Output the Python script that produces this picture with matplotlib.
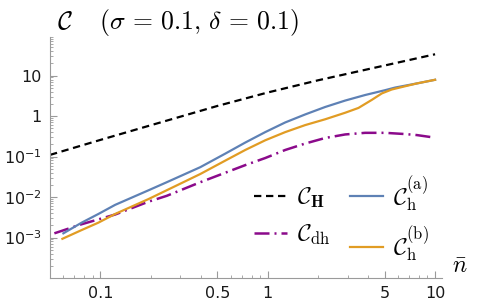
import numpy as np
import matplotlib
matplotlib.use("Agg")
import matplotlib.pyplot as plt

plt.rcParams['mathtext.fontset'] = 'dejavusans'

# valores
n_H = [0.05, 0.1, 0.2, 0.5, 1, 2, 5, 10]
C_H = [0.110, 0.258, 0.594, 1.78, 3.83, 7.67, 17.8, 33.7]

n_a = [0.0601, 0.0773, 0.0973, 0.1225, 0.194, 0.249, 0.395, 0.557, 0.734, 0.966, 1.272,
       1.675, 2.205, 2.902, 3.821, 5.03, 5.77, 7.77, 10]
C_a = [0.00127, 0.00233, 0.00382, 0.00641, 0.0147, 0.0232, 0.0546, 0.118, 0.222, 0.402, 0.697,
       1.10, 1.68, 2.42, 3.32, 4.37, 5.07, 6.4, 7.89]

n_b = [0.0593, 0.0773, 0.0973, 0.1225, 0.194, 0.249, 0.395, 0.557, 0.734, 0.966, 1.272,
       1.675, 2.205, 2.902, 3.484, 4.19, 4.81, 5.51, 6.62, 7.77, 10]
C_b = [0.00093, 0.00153, 0.00233, 0.00382, 0.00893, 0.0147, 0.037, 0.0793, 0.1455, 0.2525, 0.402,
       0.600, 0.835, 1.21, 1.59, 2.52, 3.64, 4.54, 5.46, 6.4, 7.89]

n_dh = [0.0531, 0.0773, 0.1225, 0.194, 0.249, 0.395, 0.734, 0.966, 1.272, 1.675, 2.205,
        2.902, 3.821, 5.03, 6.62, 7.77, 10]
C_dh = [0.00127, 0.00213, 0.00370, 0.00769, 0.0107, 0.0232, 0.0615, 0.092, 0.1455, 0.210, 0.288,
        0.352, 0.386, 0.386, 0.360, 0.340, 0.293]

xticks = [0.1, 0.5, 1, 5, 10]
xticklabels = ['0.1', '0.5', '1', '5', '10']
yticks = [10, 1, 0.1, 0.01, 0.001]
yticklabels = ['10', '1', r'$10^{-1}$', r'$10^{-2}$', r'$10^{-3}$']

AZUL = '#5e81b5'
LARANJA = '#e19c24'
ROXO = '#8b0a8b'
CINZA = '#9a9a9a'

fig = plt.figure(figsize=(4.82, 3.06), dpi=100)
ax = fig.add_axes([50/482, 1-278/306, 392/482, (278-37)/306])

ax.plot(n_H, C_H, color='black', lw=1.6, dashes=(3.3, 2.1), label=r'$\mathcal{C}_{\mathbf{H}}$')
ax.plot(n_dh, C_dh, color=ROXO, lw=1.8, dashes=(6.0, 2.0, 0.8, 2.0), label=r'$\mathcal{C}_{\mathrm{dh}}$')
ax.plot(n_a, C_a, color=AZUL, lw=1.6, label=r'$\mathcal{C}_{\mathrm{h}}^{(\mathrm{a})}$')
ax.plot(n_b, C_b, color=LARANJA, lw=1.6, label=r'$\mathcal{C}_{\mathrm{h}}^{(\mathrm{b})}$')

ax.set_xscale('log')
ax.set_yscale('log')
ax.set_xlim(0.0503, 11.0)
ax.set_ylim(1e-4, 61)

ax.set_xticks(xticks)
ax.set_xticklabels(xticklabels)
ax.set_yticks(yticks)
ax.set_yticklabels(yticklabels)
ax.set_xticks([k*10.0**e for e in (-2, -1, 0) for k in range(2, 10) if 0.05 <= k*10.0**e <= 11 and k*10.0**e not in xticks], minor=True)
ax.set_yticks([k*10.0**e for e in range(-4, 2) for k in range(2, 10)], minor=True)
ax.tick_params(which='both', direction='in', color=CINZA, labelsize=11.5, labelcolor='#1a1a1a')
ax.tick_params(which='major', length=5, width=0.8, pad=6)
ax.tick_params(which='minor', length=2.5, width=0.6)
for s in ('top', 'right'):
    ax.spines[s].set_visible(False)
for s in ('left', 'bottom'):
    ax.spines[s].set_color(CINZA)
    ax.spines[s].set_linewidth(0.8)

leg = ax.legend(ncol=2, loc='lower right', bbox_to_anchor=(1.02, -0.028), frameon=False,
                fontsize=17, handlelength=1.4, handletextpad=0.4, columnspacing=0.85,
                labelspacing=0.5)
for t in leg.get_texts():
    t.set_math_fontfamily('cm')

fig.text(57/482, 1-23/306, r'$\mathcal{C}\quad\;(\sigma\,=\,0.1,\,\delta\,=\,0.1)$',
         fontsize=18.5, va='center', ha='left', math_fontfamily='cm')
fig.text(460/482, 1-266/306, r'$\bar{n}$', fontsize=17, va='center', ha='center',
         math_fontfamily='cm')

fig.savefig('out.png', dpi=100)
